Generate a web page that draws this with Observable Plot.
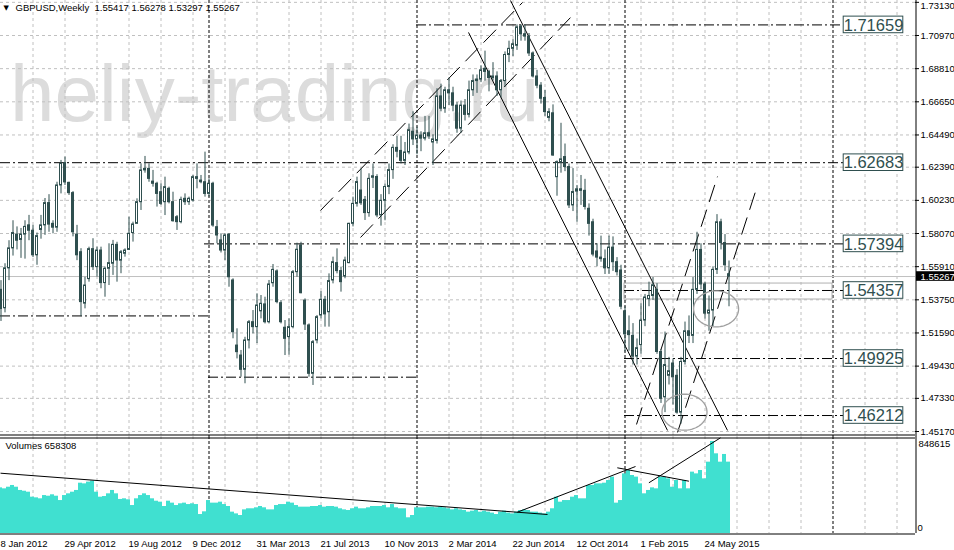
<!DOCTYPE html>
<html>
<head>
<meta charset="utf-8">
<script src="https://cdn.jsdelivr.net/npm/d3@7"></script>
<script src="https://cdn.jsdelivr.net/npm/@observablehq/plot@0.6"></script>
<style>
  html, body { margin: 0; padding: 0; background: #fff; overflow: hidden; }
  #chart { width: 954px; height: 550px; }
  #chart svg { display: block; }
</style>
</head>
<body>
<div id="chart"></div>
<script>
// ---------------- DATA (weekly GBPUSD, bar 0 = week of 8 Jan 2012) ----------------
const symbolTitle = "GBPUSD,Weekly";
const watermark = "heliy-trading.ru";

const opens = [
1.5440,1.5320,1.5580,1.5710,1.5800,1.5765,1.5800,1.5860,1.5825,1.5665,
1.5830,1.5860,1.6005,1.5870,1.5845,1.6120,1.6265,1.6137,1.6070,1.5800,
1.5685,1.5350,1.5510,1.5705,1.5588,1.5696,1.5484,1.5577,1.5610,1.5733,
1.5630,1.5675,1.5700,1.5810,1.5870,1.6011,1.6228,1.6228,1.6145,1.6131,
1.6076,1.6011,1.6098,1.6011,1.5913,1.5881,1.6033,1.6011,1.6022,1.6174,
1.6152,1.6141,1.6065,1.6131,1.5848,1.5762,1.5696,1.5800,1.5501,1.5077,
1.5012,1.4919,1.5110,1.5229,1.5197,1.5300,1.5345,1.5229,1.5483,1.5560,
1.5353,1.5193,1.5132,1.5197,1.5555,1.5729,1.5370,1.5208,1.4893,1.5110,
1.5273,1.5375,1.5294,1.5501,1.5614,1.5562,1.5527,1.5614,1.5870,1.6000,
1.6087,1.6026,1.5940,1.6170,1.6175,1.5925,1.6020,1.6110,1.6220,1.6365,
1.6345,1.6280,1.6335,1.6470,1.6420,1.6445,1.6425,1.6460,1.6400,1.6410,
1.6700,1.6620,1.6740,1.6720,1.6640,1.6490,1.6640,1.6580,1.6740,1.6800,
1.6810,1.6880,1.6860,1.6820,1.6830,1.6740,1.6800,1.6970,1.7010,1.7030,
1.7155,1.7105,1.7090,1.6980,1.6830,1.6770,1.6690,1.6560,1.6590,1.6174,
1.6270,1.6305,1.6240,1.5990,1.6080,1.6095,1.6085,1.5968,1.5880,1.5690,
1.5650,1.5640,1.5580,1.5715,1.5620,1.5566,1.5300,1.5170,1.5140,1.5005,
1.5080,1.5240,1.5380,1.5400,1.5440,1.5035,1.4740,1.4880,1.4960,1.4880,
1.4640,1.4970,1.5170,1.5140,1.5440,1.5700,1.5475,1.5285,1.5305,1.5570,
1.5880,1.5745,1.55417];

const highs = [
1.5500,1.5610,1.5760,1.5890,1.5850,1.5840,1.5890,1.5925,1.5860,1.5810,
1.5925,1.6035,1.6060,1.5890,1.6141,1.6283,1.6305,1.6141,1.6080,1.5860,
1.5708,1.5522,1.5718,1.5773,1.5718,1.5718,1.5588,1.5740,1.5762,1.5750,
1.5696,1.5707,1.5913,1.5881,1.6033,1.6261,1.6309,1.6261,1.6218,1.6141,
1.6131,1.6174,1.6109,1.6076,1.5924,1.6044,1.6065,1.6044,1.6185,1.6261,
1.6185,1.6337,1.6163,1.6141,1.5892,1.5805,1.5805,1.5805,1.5512,1.5186,
1.5045,1.5131,1.5240,1.5305,1.5414,1.5403,1.5392,1.5501,1.5605,1.5570,
1.5370,1.5240,1.5251,1.5566,1.5744,1.5750,1.5381,1.5218,1.5110,1.5273,
1.5429,1.5397,1.5544,1.5653,1.5707,1.5588,1.5653,1.5874,1.6044,1.6174,
1.6228,1.6048,1.6196,1.6260,1.6190,1.6060,1.6130,1.6260,1.6385,1.6440,
1.6440,1.6400,1.6520,1.6600,1.6500,1.6470,1.6570,1.6570,1.6450,1.6750,
1.6780,1.6760,1.6820,1.6760,1.6660,1.6670,1.6680,1.6800,1.6840,1.6840,
1.6900,1.6995,1.6870,1.6920,1.6860,1.6810,1.6990,1.7060,1.7070,1.7166,
1.7166,1.7166,1.7110,1.6990,1.6870,1.6790,1.6740,1.6620,1.6645,1.6280,
1.6525,1.6390,1.6260,1.6230,1.6120,1.6185,1.6160,1.6000,1.5900,1.5740,
1.5790,1.5700,1.5790,1.5785,1.5650,1.5600,1.5330,1.5270,1.5220,1.5120,
1.5350,1.5410,1.5490,1.5520,1.5480,1.5050,1.5165,1.5000,1.4990,1.4920,
1.5000,1.5230,1.5270,1.5520,1.5815,1.5740,1.5490,1.5400,1.5590,1.5930,
1.5900,1.5800,1.56278];

const lows = [
1.5234,1.5290,1.5500,1.5660,1.5700,1.5645,1.5640,1.5760,1.5650,1.5600,
1.5770,1.5795,1.5815,1.5805,1.5815,1.6065,1.6120,1.6055,1.5785,1.5630,
1.5265,1.5316,1.5490,1.5566,1.5523,1.5447,1.5392,1.5468,1.5534,1.5490,
1.5545,1.5653,1.5696,1.5751,1.5870,1.5957,1.6200,1.6141,1.6109,1.5979,
1.5990,1.5924,1.6000,1.5881,1.5827,1.5870,1.5990,1.5990,1.6011,1.6098,
1.6131,1.6044,1.6044,1.5848,1.5740,1.5680,1.5631,1.5457,1.5121,1.4990,
1.4871,1.4828,1.5055,1.5153,1.5090,1.5251,1.5218,1.5218,1.5457,1.5349,
1.5218,1.5012,1.5015,1.5186,1.5522,1.5414,1.5175,1.4871,1.4817,1.5088,
1.5251,1.5197,1.5197,1.5479,1.5544,1.5425,1.5512,1.5610,1.5850,1.5979,
1.5990,1.5892,1.5913,1.6100,1.5910,1.5855,1.5890,1.6060,1.6160,1.6300,
1.6260,1.6250,1.6320,1.6380,1.6320,1.6340,1.6410,1.6420,1.6250,1.6390,
1.6600,1.6590,1.6640,1.6600,1.6460,1.6460,1.6540,1.6560,1.6700,1.6720,
1.6790,1.6800,1.6730,1.6800,1.6700,1.6690,1.6760,1.6920,1.6960,1.7000,
1.7060,1.7060,1.6960,1.6820,1.6750,1.6650,1.6570,1.6535,1.6310,1.6050,
1.6200,1.6210,1.5970,1.5950,1.5880,1.5990,1.5960,1.5790,1.5655,1.5590,
1.5620,1.5540,1.5540,1.5560,1.5530,1.5310,1.5035,1.5040,1.4950,1.4950,
1.5020,1.5200,1.5330,1.5370,1.5020,1.4700,1.4640,1.4820,1.4690,1.4630,
1.4565,1.4950,1.5090,1.5090,1.5410,1.5440,1.5250,1.5170,1.5200,1.5540,
1.5700,1.5560,1.53297];

const closes = [
1.5315,1.5580,1.5710,1.5810,1.5760,1.5800,1.5850,1.5825,1.5665,1.5790,
1.5860,1.6005,1.5865,1.5845,1.6120,1.6260,1.6140,1.6070,1.5815,1.5665,
1.5360,1.5468,1.5705,1.5588,1.5696,1.5484,1.5577,1.5614,1.5733,1.5631,
1.5685,1.5696,1.5805,1.5866,1.6011,1.6218,1.6218,1.6163,1.6131,1.6065,
1.6000,1.6109,1.6011,1.5887,1.5881,1.6026,1.6011,1.6033,1.6174,1.6163,
1.6141,1.6065,1.6131,1.5859,1.5794,1.5696,1.5794,1.5522,1.5164,1.5034,
1.4919,1.5110,1.5229,1.5197,1.5338,1.5349,1.5229,1.5475,1.5570,1.5360,
1.5229,1.5121,1.5197,1.5555,1.5701,1.5418,1.5214,1.4893,1.5099,1.5262,
1.5375,1.5280,1.5497,1.5620,1.5562,1.5490,1.5631,1.5870,1.6000,1.6142,
1.6004,1.5940,1.6163,1.6180,1.5925,1.6020,1.6110,1.6220,1.6365,1.6340,
1.6280,1.6335,1.6480,1.6420,1.6445,1.6425,1.6460,1.6440,1.6420,1.6700,
1.6620,1.6740,1.6720,1.6640,1.6490,1.6640,1.6580,1.6740,1.6800,1.6810,
1.6870,1.6860,1.6820,1.6830,1.6740,1.6800,1.6970,1.7010,1.7040,1.7150,
1.7105,1.7090,1.6980,1.6830,1.6770,1.6685,1.6598,1.6598,1.6315,1.6272,
1.6290,1.6240,1.5990,1.6077,1.6095,1.6085,1.5980,1.5870,1.5670,1.5650,
1.5640,1.5580,1.5715,1.5620,1.5555,1.5330,1.5150,1.5145,1.5005,1.5060,
1.5240,1.5390,1.5400,1.5470,1.5035,1.4730,1.4950,1.4910,1.4870,1.4640,
1.4970,1.5170,1.5140,1.5440,1.5700,1.5475,1.5285,1.5305,1.5570,1.5880,
1.5745,1.5600,1.55267];

const volumes = [
421000,412000,427000,443000,427000,397000,390000,381000,335000,329000,
320000,350000,344000,357000,344000,304000,350000,366000,381000,397000,
464000,458000,474000,483000,381000,335000,341000,366000,397000,366000,
314000,320000,311000,258000,320000,350000,366000,350000,320000,298000,
289000,249000,298000,280000,258000,274000,280000,267000,274000,267000,
175000,200000,304000,280000,280000,289000,267000,249000,197000,181000,
166000,218000,228000,228000,237000,249000,237000,218000,218000,258000,
267000,267000,289000,280000,258000,243000,243000,243000,249000,249000,
258000,243000,249000,249000,243000,228000,218000,212000,228000,243000,
228000,228000,237000,249000,249000,249000,258000,237000,267000,237000,
228000,228000,145000,166000,237000,237000,237000,243000,243000,237000,
243000,237000,228000,218000,228000,218000,212000,197000,206000,212000,
197000,206000,197000,188000,175000,197000,206000,188000,181000,197000,
212000,218000,212000,197000,197000,188000,181000,197000,228000,335000,
289000,304000,304000,335000,350000,320000,320000,443000,443000,458000,
458000,464000,489000,520000,280000,304000,550000,581000,535000,520000,
458000,366000,397000,421000,412000,520000,520000,504000,427000,489000,
412000,489000,412000,566000,550000,581000,504000,658000,848615,735000,
658000,729000,658308];

// axis readings
const priceTicks = [1.73130,1.70970,1.68810,1.66650,1.64490,1.62390,1.60230,1.58070,1.55910,1.53750,1.51590,1.49430,1.47330,1.45170];
const priceAxisTop = 1.7325, priceAxisBottom = 1.44845;
const volumeAxisTop = 894728;
const dateLabelBars = [0,16,32,48,64,80,96,112,128,144,160,176];
const dateLabels = ["8 Jan 2012","29 Apr 2012","19 Aug 2012","9 Dec 2012","31 Mar 2013","21 Jul 2013","10 Nov 2013","2 Mar 2014","22 Jun 2014","12 Oct 2014","1 Feb 2015","24 May 2015"];
const yearStartBars = [52,104,156,208];

// horizontal levels (labelled) and plain supports
const levelPrices = [1.71659,1.62683,1.57394,1.54357,1.49925,1.46212];
const levelFromBars = [104,0,51,156,156,156];
const supportPrices = [1.5270,1.4871];
const supportFromBars = [0,52];
const supportToBars = [52,104];
// gray zone rectangle
const zoneBars = [156,208];
const zonePrices = [1.5377,1.5481];
// trend lines (bar position, price)
const solidLines = [
  {b1:127.5, p1:1.7325, b2:181.75, p2:1.4524},
  {b1:117,   p1:1.7117, b2:166.75, p2:1.4524}];
const dashedLines = [
  {b1:80,     p1:1.5957, b2:130.5,  p2:1.7312},
  {b1:90,     p1:1.5781, b2:142.5,  p2:1.7214},
  {b1:159,    p1:1.4563, b2:179.25, p2:1.6178},
  {b1:169.25, p1:1.4511, b2:189.25, p2:1.6120}];
const ellipseCenters = [{b:171, p:1.4643},{b:178.9, p:1.5316}];
const volumeLines = [
  {b1:0,     v1:556200, b2:136.75, v2:175300},
  {b1:129.2, v1:196500, b2:158.75, v2:618000},
  {b1:154.2, v1:606000, b2:172.1,  v2:482400},
  {b1:162.1, v1:467700, b2:180,    v2:882700}];

// ---------------- CHART ----------------
const bars = opens.map((o, i) => ({i, o, h: highs[i], l: lows[i], c: closes[i], v: volumes[i]}));
const last = bars[bars.length - 1];
const FMT = d => d.toFixed(5);
const xDomain = [-0.125, 228.625];         // 4 px per weekly bar, right axis at 915 px
const E = b => b - 0.125;                  // bar-edge position -> scale value
const PX = (priceAxisTop - priceAxisBottom) / 436; // price per pixel
const CANDLE = "#2f4f4f";
const GRID = "#c0c0c0";
const FONT = "Liberation Sans, Arial, sans-serif";
const gridBars = d3.range(8, 229, 8).filter(b => !yearStartBars.includes(b));
const levels = levelPrices.map((p, k) => ({p, from: levelFromBars[k]}));
const supports = supportPrices.map((p, k) => ({p, from: supportFromBars[k], to: supportToBars[k]}));
const ellRX = 22.5 / 4, ellRY = 18 * PX;
const ellipsePts = ellipseCenters.flatMap((c, k) => d3.range(0, 73).map(j => {
  const t = j / 72 * 2 * Math.PI;
  return {k, x: E(c.b) + ellRX * Math.cos(t), y: c.p + ellRY * Math.sin(t)};
}));
const labelX1 = E(210.8), labelX2 = E(225.7), labelHalf = 8.3 * PX;
const innerTicks = priceTicks.slice(1), topTick = priceTicks.slice(0, 1);

const price = Plot.plot({
  width: 954, height: 436,
  marginTop: 0, marginBottom: 0, marginLeft: 0, marginRight: 39,
  x: {domain: xDomain, axis: null},
  y: {domain: [priceAxisBottom, priceAxisTop], axis: null},
  style: {background: "white", fontFamily: FONT, fontSize: "9.5px", overflow: "visible"},
  marks: [
    Plot.text([watermark], {text: d => d, frameAnchor: "top-left", dx: 9.6, dy: 120, lineAnchor: "bottom", textAnchor: "start", fontSize: 80, fontFamily: FONT, fill: "#dcdcdc"}),
    Plot.ruleX(gridBars, {x: d => d, stroke: GRID, strokeDasharray: "3,3"}),
    Plot.ruleY(priceTicks, {y: d => d, x1: () => xDomain[0], x2: () => xDomain[1], stroke: GRID, strokeDasharray: "3,3"}),
    Plot.ruleX(yearStartBars, {x: d => d, stroke: "black", strokeDasharray: "3,2"}),
    Plot.ruleY([last.c], {y: d => d, x1: () => xDomain[0], x2: () => xDomain[1], stroke: GRID}),
    Plot.rect([{x1: E(zoneBars[0]), x2: E(zoneBars[1]), y1: zonePrices[0], y2: zonePrices[1]}], {x1: "x1", x2: "x2", y1: "y1", y2: "y2", fill: "none", stroke: "#b0b0b0"}),
    Plot.ruleY(levels, {y: "p", x1: d => E(d.from), x2: () => labelX1, stroke: "black", strokeDasharray: "10,3,2,3"}),
    Plot.ruleY(supports, {y: "p", x1: d => E(d.from), x2: d => E(d.to), stroke: "black", strokeDasharray: "10,3,2,3"}),
    Plot.link(solidLines, {x1: d => E(d.b1), y1: "p1", x2: d => E(d.b2), y2: "p2", stroke: "black"}),
    Plot.link(dashedLines, {x1: d => E(d.b1), y1: "p1", x2: d => E(d.b2), y2: "p2", stroke: "black", strokeDasharray: "18,8"}),
    Plot.ruleX(bars, {x: "i", y1: "l", y2: "h", stroke: CANDLE}),
    Plot.rect(bars, {x1: d => d.i - 0.25, x2: d => d.i + 0.25, y1: "o", y2: "c", fill: d => d.c >= d.o ? "white" : CANDLE, stroke: CANDLE}),
    Plot.line(ellipsePts, {x: "x", y: "y", z: "k", stroke: "#a0a0a0", strokeWidth: 1.3}),
    Plot.rect(levels, {x1: () => labelX1, x2: () => labelX2, y1: d => d.p - labelHalf, y2: d => d.p + labelHalf, fill: "white", stroke: CANDLE}),
    Plot.text(levels, {x: () => (labelX1 + labelX2) / 2, y: "p", text: d => FMT(d.p), fontSize: 16.5, fontFamily: FONT, fill: CANDLE, dy: 0.5}),
    Plot.ruleX([xDomain[1]], {x: d => d, dx: 0.5, stroke: "black"}),
    Plot.ruleY(priceTicks, {y: d => d, x1: () => xDomain[1], x2: () => xDomain[1] + 1, stroke: "black"}),
    Plot.text(innerTicks, {x: () => xDomain[1], y: d => d, dx: 5, text: FMT, textAnchor: "start", fontSize: 9.5, fontFamily: FONT, fill: "black"}),
    Plot.text(topTick, {x: () => xDomain[1], y: d => d, dx: 5, dy: 3.5, text: FMT, textAnchor: "start", fontSize: 9.5, fontFamily: FONT, fill: "black"}),
    Plot.rect([last.c], {x1: () => E(229), x2: () => E(238.5), y1: d => d - 4.8 * PX, y2: d => d + 4.8 * PX, fill: "black"}),
    Plot.text([last.c], {x: () => xDomain[1], y: d => d, dx: 5, text: FMT, textAnchor: "start", fontSize: 9.5, fontFamily: FONT, fill: "white"}),
    Plot.text(["\u25BC"], {text: d => d, frameAnchor: "top-left", dx: 3, dy: 4.5, lineAnchor: "top", textAnchor: "start", fontSize: 7, fontFamily: "DejaVu Sans", fill: "black"}),
    Plot.text([symbolTitle], {text: d => d, frameAnchor: "top-left", dx: 15, dy: 4, lineAnchor: "top", textAnchor: "start", fontSize: 9.5, fontFamily: FONT, fill: "black"}),
    Plot.text([[last.o, last.h, last.l, last.c].map(FMT).join(" ")], {text: d => d, frameAnchor: "top-left", dx: 94, dy: 4, lineAnchor: "top", textAnchor: "start", fontSize: 9.5, fontFamily: FONT, fill: "black"}),
    Plot.ruleY([priceAxisBottom], {y: d => d, x1: () => xDomain[0], x2: () => xDomain[1], dy: -1.5, stroke: "black"})
  ]
});

const volume = Plot.plot({
  width: 954, height: 114,
  marginTop: 0, marginBottom: 17, marginLeft: 0, marginRight: 39,
  x: {domain: xDomain, axis: null},
  y: {domain: [0, volumeAxisTop], axis: null},
  style: {background: "white", fontFamily: FONT, fontSize: "9.5px", overflow: "visible"},
  marks: [
    Plot.ruleX(gridBars, {x: d => d, stroke: GRID, strokeDasharray: "3,3"}),
    Plot.ruleX(yearStartBars, {x: d => d, stroke: "black", strokeDasharray: "3,2"}),
    Plot.rect(bars, {x1: d => d.i - 0.625, x2: d => d.i + 0.375, y1: () => 0, y2: "v", fill: "#40e0d0"}),
    Plot.link(volumeLines, {x1: d => E(d.b1), y1: "v1", x2: d => E(d.b2), y2: "v2", stroke: "black"}),
    Plot.ruleX([xDomain[1]], {x: d => d, dx: 0.5, stroke: "black"}),
    Plot.ruleY([0], {y: d => d, x1: () => xDomain[0], x2: () => xDomain[1], dy: 0.5, stroke: "black"}),
    Plot.ruleY([volumeAxisTop], {y: d => d, x1: () => xDomain[0], x2: () => xDomain[1], dy: 1.5, stroke: "black"}),
    Plot.text([d3.max(volumes)], {x: () => xDomain[1], y: d => d, dx: 3, dy: 2, text: d => String(d), textAnchor: "start", fontSize: 9.5, fontFamily: FONT, fill: "black"}),
    Plot.text([0], {x: () => xDomain[1], y: d => d, dx: 2, dy: -6, text: d => String(d), textAnchor: "start", fontSize: 9.5, fontFamily: FONT, fill: "black"}),
    Plot.text(["Volumes " + last.v], {text: d => d, frameAnchor: "top-left", dx: 5, dy: 9.7, lineAnchor: "middle", textAnchor: "start", fontSize: 9.5, fontFamily: FONT, fill: "black"}),
    Plot.text(dateLabelBars, {x: d => E(d), y: () => 0, dy: 10.5, text: (d, k) => dateLabels[k], textAnchor: "start", lineAnchor: "middle", fontSize: 9.5, fontFamily: FONT, fill: "black"})
  ]
});

document.getElementById("chart").append(price, volume);
</script>
</body>
</html>
